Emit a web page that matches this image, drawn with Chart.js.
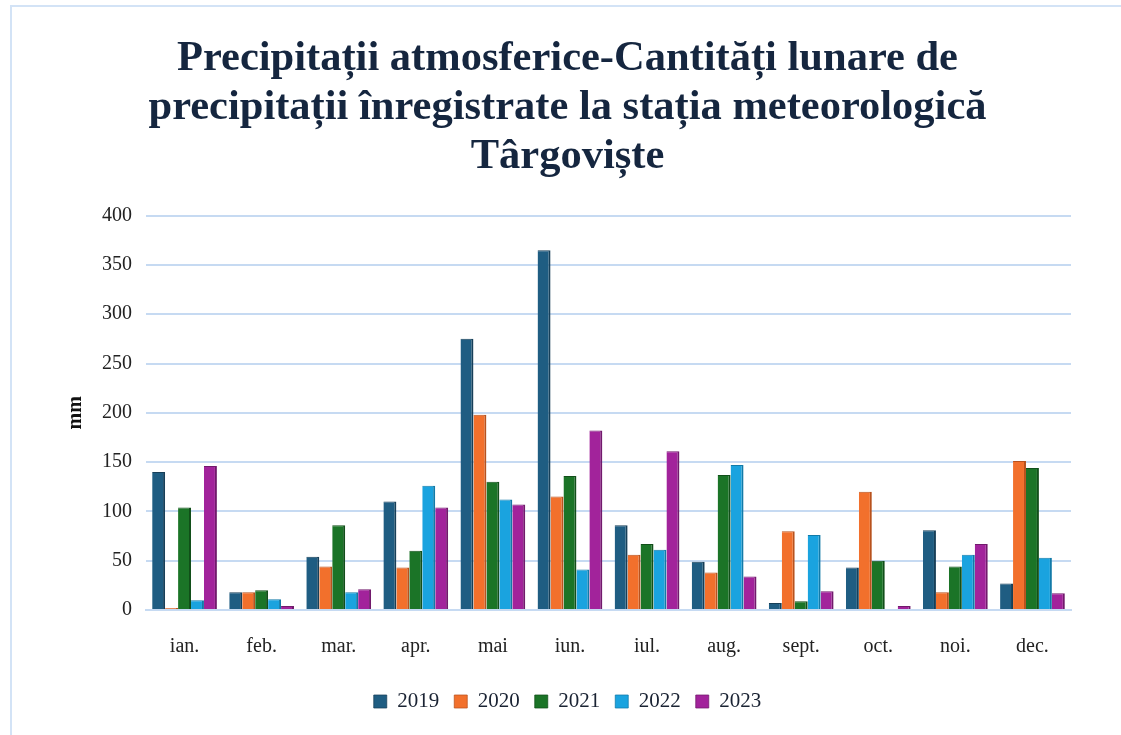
<!DOCTYPE html>
<html lang="ro">
  <head>
    <meta charset="UTF-8" />
    <title>Precipitatii Targoviste</title>
    <script src="https://cdn.jsdelivr.net/npm/chart.js@4.4.0/dist/chart.umd.min.js"></script>
    <style>
      html, body { margin: 0; padding: 0; background: #fff; overflow: hidden; }
      #frame { position: absolute; left: 10px; top: 5px; width: 1200px; height: 800px; border: 2px solid #d3e3f6; box-sizing: border-box; }
      #wrap { position: absolute; left: 0; top: 0; width: 1121px; height: 735px; }
    </style>
  </head>
  <body>
    <div id="frame"></div>
    <div id="wrap"><canvas id="myChart"></canvas></div>
    <script>
    const months = ['ian.', 'feb.', 'mar.', 'apr.', 'mai', 'iun.', 'iul.', 'aug.', 'sept.', 'oct.', 'noi.', 'dec.'];
    const years = ['2019', '2020', '2021', '2022', '2023'];

    const y2019 = [140, 18, 54, 110, 275, 365, 86, 49, 7, 43, 81, 27];
    const y2020 = [2, 18, 44, 43, 198, 115, 56, 38, 80, 120, 18, 151];
    const y2021 = [104, 20, 86, 60, 130, 136, 67, 137, 9, 50, 44, 144];
    const y2022 = [10, 11, 18, 126, 112, 41, 61, 147, 76, 1, 56, 53];
    const y2023 = [146, 4, 21, 104, 107, 182, 161, 34, 19, 4, 67, 17];

    const colors = ['#1f5d82', '#f2702c', '#1b7427', '#1aa3df', '#a2239b'];
    const edges = ['#173f58', '#b8521d', '#124f1a', '#127aa8', '#711a6c'];

    const serif = '"Liberation Serif", "Times New Roman", serif';
    const series = [y2019, y2020, y2021, y2022, y2023];

    const ctx = document.getElementById('myChart').getContext('2d');
    const myChart = new Chart(ctx, {
      type: 'bar',
      data: {
        labels: months,
        datasets: series.map((d, i) => ({
          label: years[i],
          data: d,
          backgroundColor: colors[i],
          borderColor: edges[i],
          borderWidth: { right: 2, top: 1, left: 0, bottom: 0 },
          barPercentage: 1.0,
          categoryPercentage: 0.84
        }))
      },
      options: {
        responsive: true,
        maintainAspectRatio: false,
        animation: false,
        layout: { padding: { left: 64, right: 50, top: 35, bottom: 13 } },
        plugins: {
          title: {
            display: true,
            text: ['Precipitații atmosferice-Cantități lunare de', 'precipitații înregistrate la stația meteorologică', 'Târgoviște'],
            color: '#15263f',
            font: { family: serif, size: 42.5, weight: 'bold', lineHeight: 1.15 },
            padding: { top: 0, bottom: 34 }
          },
          legend: {
            position: 'bottom',
            labels: {
              color: '#1a2333',
              font: { family: serif, size: 21 },
              boxWidth: 13,
              boxHeight: 13,
              padding: 15
            }
          },
          tooltip: { enabled: false }
        },
        scales: {
          x: {
            grid: { display: false },
            border: { display: true, color: '#c6daf2', width: 2 },
            ticks: { color: '#222', font: { family: serif, size: 20 }, padding: 17 }
          },
          y: {
            min: 0,
            max: 400,
            ticks: { stepSize: 50, color: '#222', font: { family: serif, size: 20 }, padding: 14 },
            grid: { color: '#c6daf2', lineWidth: 2, drawTicks: false },
            border: { display: false },
            title: {
              display: true,
              text: 'mm',
              color: '#111',
              font: { family: serif, size: 20, weight: 'bold' },
              padding: { top: 0, bottom: 0 }
            }
          }
        }
      }
    });
    </script>
  </body>
</html>
